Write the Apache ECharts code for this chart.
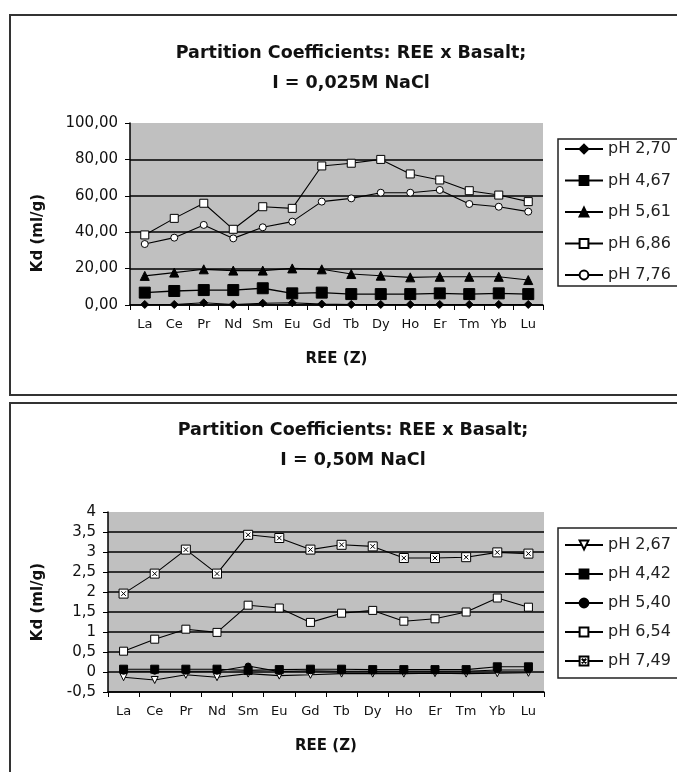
<!DOCTYPE html>
<html><head><meta charset="utf-8">
<script src="https://cdn.jsdelivr.net/npm/echarts@6/dist/echarts.min.js"></script>
<style>html,body{margin:0;padding:0;background:#fff}#c{width:677px;height:772px}</style>
</head><body><div id="c"></div>
<script>
// ---------- data ----------
const categories = ['La','Ce','Pr','Nd','Sm','Eu','Gd','Tb','Dy','Ho','Er','Tm','Yb','Lu'];

// Top chart: I = 0,025M NaCl
const topTitle = ['Partition Coefficients: REE x Basalt;', 'I = 0,025M NaCl'];
const topNames = ['pH 2,70', 'pH 4,67', 'pH 5,61', 'pH 6,86', 'pH 7,76'];
const ph270 = [0.3, 0.3, 1.2, 0.3, 1.0, 1.2, 0.5, 0.3, 0.3, 0.3, 0.3, 0.3, 0.3, 0.3];
const ph467 = [6.8, 7.7, 8.2, 8.2, 9.2, 6.4, 6.8, 6.0, 6.0, 6.0, 6.4, 6.0, 6.4, 6.0];
const ph561 = [16.0, 17.8, 19.6, 18.9, 18.9, 20.1, 19.6, 17.0, 16.1, 15.2, 15.5, 15.5, 15.5, 13.7];
const ph686 = [38.5, 47.6, 55.9, 41.6, 54.0, 53.1, 76.4, 77.9, 80.0, 72.0, 68.7, 62.8, 60.4, 56.8];
const ph776 = [33.5, 37.0, 44.0, 36.6, 42.7, 45.8, 56.8, 58.6, 61.7, 61.7, 63.2, 55.5, 54.0, 51.3];
const topYTicks = [0, 20, 40, 60, 80, 100];

// Bottom chart: I = 0,50M NaCl
const bottomTitle = ['Partition Coefficients: REE x Basalt;', 'I = 0,50M NaCl'];
const bottomNames = ['pH 2,67', 'pH 4,42', 'pH 5,40', 'pH 6,54', 'pH 7,49'];
const ph267 = [-0.13, -0.20, -0.07, -0.13, -0.04, -0.09, -0.07, -0.04, -0.04, -0.04, -0.03, -0.04, -0.03, -0.02];
const ph442 = [0.07, 0.07, 0.07, 0.07, 0.04, 0.06, 0.07, 0.07, 0.06, 0.06, 0.06, 0.06, 0.13, 0.13];
const ph540 = [0.02, 0.02, 0.02, 0.02, 0.15, 0.01, 0.03, 0.02, 0.02, 0.02, 0.02, 0.02, 0.05, 0.05];
const ph654 = [0.52, 0.82, 1.07, 0.99, 1.67, 1.60, 1.24, 1.47, 1.54, 1.27, 1.33, 1.50, 1.85, 1.62];
const ph749 = [1.96, 2.46, 3.06, 2.46, 3.43, 3.35, 3.06, 3.18, 3.14, 2.85, 2.85, 2.87, 2.99, 2.96];
const bottomYTicks = [-0.5, 0, 0.5, 1, 1.5, 2, 2.5, 3, 3.5, 4];

const xAxisTitle = 'REE (Z)';
const yAxisTitle = 'Kd (ml/g)';

// ---------- chart ----------
const FONT = 'DejaVu Sans';
const chart = echarts.init(document.getElementById('c'), null, {renderer: 'canvas'});

function lineSeries(name, data, idx, symbol, size, fill, extra) {
  return Object.assign({
    type: 'line', name: name, data: data,
    xAxisIndex: idx, yAxisIndex: idx,
    symbol: symbol, symbolSize: size, showAllSymbol: true,
    itemStyle: {color: fill, borderColor: '#000', borderWidth: 1},
    lineStyle: {color: '#000', width: 1.1},
    emphasis: {disabled: true}, animation: false, z: 3
  }, extra || {});
}

function xAxisCfg(idx) {
  return {
    type: 'category', gridIndex: idx, data: categories, boundaryGap: true,
    axisLine: {onZero: false, lineStyle: {color: '#000', width: 1.5}},
    axisTick: {show: true, length: 5, lineStyle: {color: '#000', width: 1}},
    axisLabel: {interval: 0, fontFamily: FONT, fontSize: 13, color: '#111', margin: 13},
    splitLine: {show: false},
    name: xAxisTitle, nameLocation: 'middle', nameGap: 47,
    nameTextStyle: {fontFamily: FONT, fontWeight: 'bold', fontSize: 15, color: '#111'}
  };
}

function yAxisCfg(idx, ticks, fmt, nameGap, namePad) {
  const cols = ticks.map((t, i) => i === ticks.length - 1 ? 'rgba(0,0,0,0)' : '#000');
  return {
    type: 'value', gridIndex: idx,
    min: ticks[0], max: ticks[ticks.length - 1], interval: ticks[1] - ticks[0],
    axisLine: {show: true, lineStyle: {color: '#000', width: 1.5}},
    axisTick: {show: true, length: 5, lineStyle: {color: '#000'}},
    axisLabel: {fontFamily: FONT, fontSize: 15, color: '#111', margin: 12, formatter: fmt},
    splitLine: {show: true, lineStyle: {color: cols, width: 1.5}},
    name: yAxisTitle, nameLocation: 'middle', nameGap: nameGap, nameRotate: 90,
    nameTextStyle: {fontFamily: FONT, fontWeight: 'bold', fontSize: 15, color: '#111', padding: namePad}
  };
}

function legendCfg(names, top, gap, pad) {
  return {
    data: names, orient: 'vertical', left: 558, top: top,
    itemWidth: 38, itemHeight: 11, itemGap: gap, padding: pad,
    borderColor: '#222', borderWidth: 1.5, backgroundColor: '#fff',
    textStyle: {fontFamily: FONT, fontSize: 16, color: '#222'},
    selectedMode: false, inactiveColor: '#000'
  };
}

const xSq = 'path://M0,0L10,0L10,10L0,10Z M2.5,2.5L7.5,7.5 M7.5,2.5L2.5,7.5';

const titleStyle = {fontFamily: FONT, fontWeight: 'bold', fontSize: 17.5, lineHeight: 30, color: '#111'};

const option = {
  backgroundColor: '#fff',
  animation: false,
  title: [
    {text: topTitle.join('\n'), left: 346, top: 33, textAlign: 'center', textStyle: titleStyle},
    {text: bottomTitle.join('\n'), left: 348, top: 410, textAlign: 'center', textStyle: titleStyle}
  ],
  graphic: [
    {type: 'rect', shape: {x: 10, y: 15, width: 690, height: 380}, style: {fill: 'none', stroke: '#333', lineWidth: 2}, silent: true, z: -1},
    {type: 'rect', shape: {x: 10, y: 403, width: 690, height: 400}, style: {fill: 'none', stroke: '#333', lineWidth: 2}, silent: true, z: -1}
  ],
  grid: [
    {left: 130, right: 134, top: 123, bottom: 467, show: true, backgroundColor: '#c0c0c0', borderWidth: 0},
    {left: 108, right: 133, top: 512, bottom: 80, show: true, backgroundColor: '#c0c0c0', borderWidth: 0}
  ],
  legend: [
    legendCfg(topNames, 139, 15.5, [2, 24, 3, 6]),
    legendCfg(bottomNames, 528, 13, [9, 24, 9, 6])
  ],
  xAxis: [xAxisCfg(0), xAxisCfg(1)],
  yAxis: [
    yAxisCfg(0, topYTicks, v => v.toFixed(2).replace('.', ','), 84, [0, 38, 0, 0]),
    yAxisCfg(1, bottomYTicks, v => String(v).replace('.', ','), 62, [0, 0, 0, 0])
  ],
  series: [
    lineSeries(topNames[0], ph270, 0, 'diamond', 8, '#000'),
    lineSeries(topNames[1], ph467, 0, 'rect', 11, '#000', {lineStyle: {color: '#000', width: 1.4}}),
    lineSeries(topNames[2], ph561, 0, 'triangle', 9, '#000'),
    lineSeries(topNames[3], ph686, 0, 'rect', 8, '#fff'),
    lineSeries(topNames[4], ph776, 0, 'circle', 7, '#fff'),
    lineSeries(bottomNames[0], ph267, 1, 'triangle', 7, '#fff', {symbolRotate: 180}),
    lineSeries(bottomNames[1], ph442, 1, 'rect', 8, '#000'),
    lineSeries(bottomNames[2], ph540, 1, 'circle', 6, '#000'),
    lineSeries(bottomNames[3], ph654, 1, 'rect', 8, '#fff'),
    lineSeries(bottomNames[4], ph749, 1, xSq, 9, '#fff')
  ]
};
chart.setOption(option);
</script>
</body></html>
